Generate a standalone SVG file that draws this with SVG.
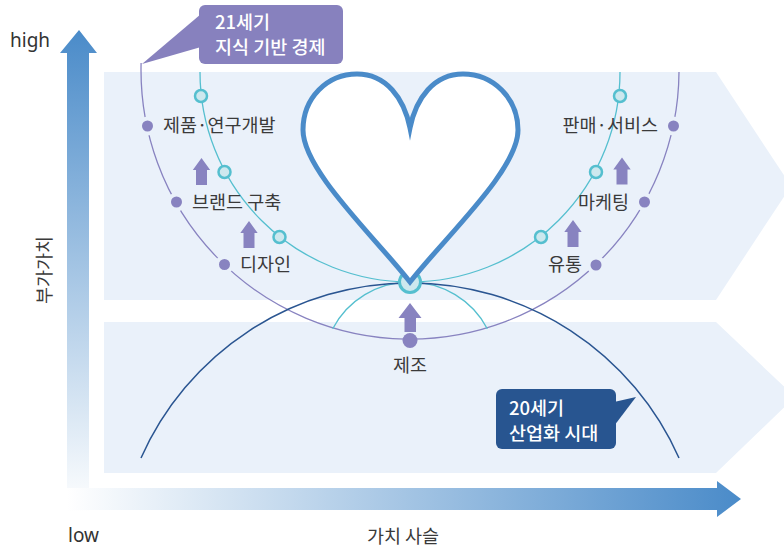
<svg xmlns="http://www.w3.org/2000/svg" width="784" height="548" viewBox="0 0 784 548">
<style>
.band{fill:#eaf1fa}
.lbl{font-family:"Noto Sans CJK KR","Noto Sans",sans-serif;font-size:18.5px;fill:#3a3a3a}
.ax{font-family:"Noto Sans","Noto Sans CJK KR",sans-serif;font-size:19px;fill:#333}
.co{font-family:"Noto Sans CJK KR","Noto Sans",sans-serif;font-size:18.5px;font-weight:500;fill:#fff}
.pdot{fill:#8883c0;stroke:#eaf1fa;stroke-width:4}
.tdot{fill:#cde8ee;stroke:#55bfcf;stroke-width:2.5}
.up{fill:#8883c0}
</style>
<defs>
<linearGradient id="gv" x1="0" y1="30" x2="0" y2="512" gradientUnits="userSpaceOnUse">
<stop offset="0" stop-color="#4a8bc9"/>
<stop offset="1" stop-color="#ffffff"/>
</linearGradient>
<linearGradient id="gh" x1="67" y1="0" x2="741" y2="0" gradientUnits="userSpaceOnUse">
<stop offset="0" stop-color="#ffffff"/>
<stop offset="1" stop-color="#4a8bc9"/>
</linearGradient>
<path id="arr" d="M0,0 L8.7,12 L5.5,12 L5.5,27 L-5.5,27 L-5.5,12 L-8.7,12 Z"/>
</defs>

<g id="bands">
<polygon class="band" points="104,72 716,72 791,186 716,300 104,300"/>
<polygon class="band" points="104,322 716,322 795,397 716,473 104,473"/>
</g>

<g id="axes">
<polygon fill="url(#gv)" points="67,512 67,53 60,53 79,30 97,53 89,53 89,512"/>
<polygon fill="url(#gh)" points="67,488 717,488 717,481 741,499 717,517 717,510 67,510"/>
<text class="ax" x="10" y="47">high</text>
<text class="ax" x="68" y="542">low</text>
<text class="lbl" x="403" y="543" text-anchor="middle">가치 사슬</text>
<text class="lbl" transform="translate(51,270) rotate(-90)" text-anchor="middle">부가가치</text>
</g>

<g id="connectors" fill="none">
<path d="M141.1,63 A269,269 0 1 0 679,72" stroke="#8883c0" stroke-width="1.3"/>
<path d="M200,72 A210,210 0 0 0 410,282 A210,210 0 0 0 620,72" stroke="#55bfcf" stroke-width="1.3"/>
<path d="M332.7,328.7 A87.4,87.4 0 0 1 487.3,328.7" stroke="#55bfcf" stroke-width="1.3"/>
<path d="M141,458 A294.2,294.2 0 0 1 679,458" stroke="#2a5591" stroke-width="1.5"/>
</g>

<g id="teal-points">
<circle class="tdot" cx="201" cy="96" r="6"/>
<circle class="tdot" cx="224.5" cy="172" r="6"/>
<circle class="tdot" cx="279.5" cy="237" r="6"/>
<circle class="tdot" cx="620" cy="96" r="6"/>
<circle class="tdot" cx="596" cy="172" r="6"/>
<circle class="tdot" cx="541" cy="237" r="6"/>
</g>

<g id="node-jepum"><circle class="pdot" cx="147.5" cy="126" r="7.5"/><text class="lbl" x="163" y="132">제품·연구개발</text></g>
<g id="node-brand"><circle class="pdot" cx="176.5" cy="202" r="7.5"/><text class="lbl" x="192" y="209">브랜드 구축</text></g>
<g id="node-design"><circle class="pdot" cx="224.5" cy="264.5" r="7.5"/><text class="lbl" x="240" y="271">디자인</text></g>
<g id="node-panmae"><circle class="pdot" cx="673.5" cy="126" r="7.5"/><text class="lbl" x="658" y="132" text-anchor="end">판매·서비스</text></g>
<g id="node-marketing"><circle class="pdot" cx="644.5" cy="202" r="7.5"/><text class="lbl" x="629" y="209" text-anchor="end">마케팅</text></g>
<g id="node-yutong"><circle class="pdot" cx="596" cy="265" r="7.5"/><text class="lbl" x="582" y="271" text-anchor="end">유통</text></g>
<g id="node-jejo"><circle fill="#8883c0" cx="410" cy="340.5" r="7.5"/><text class="lbl" x="410" y="372" text-anchor="middle">제조</text></g>

<g id="up-arrows">
<use href="#arr" class="up" x="201.5" y="158"/>
<use href="#arr" class="up" x="249" y="221"/>
<use href="#arr" class="up" x="622" y="157.5"/>
<use href="#arr" class="up" x="573" y="220"/>
<path class="up" d="M410,303 L421.5,318 L416,318 L416,332 L404.5,332 L404.5,318 L398.5,318 Z"/>
</g>

<g id="heart">
<circle cx="410" cy="282" r="10.5" fill="#cde8ee" stroke="#55bfcf" stroke-width="3"/>
<path d="M410,282 C374,236 303,170 303,130 C303,98 327,74 357,74 C386,74 404,98 410,128 C416,98 434,74 463,74 C493,74 518,98 518,130 C518,170 446,236 410,282 Z" fill="#ffffff" stroke="#4a8bc9" stroke-width="5" stroke-linejoin="miter" stroke-miterlimit="10"/>
</g>

<g id="callout-21">
<polygon points="201,14 142,64 201,47" fill="#8781be"/>
<rect x="199" y="5" width="144" height="59" rx="6" fill="#8781be"/>
<text class="co" x="215" y="29">21세기</text>
<text class="co" x="215" y="54">지식 기반 경제</text>
</g>

<g id="callout-20">
<polygon points="614,402 636,397 614,426" fill="#285590"/>
<rect x="496" y="389" width="120" height="60" rx="6" fill="#285590"/>
<text class="co" x="509" y="415">20세기</text>
<text class="co" x="509" y="440">산업화 시대</text>
</g>
</svg>
